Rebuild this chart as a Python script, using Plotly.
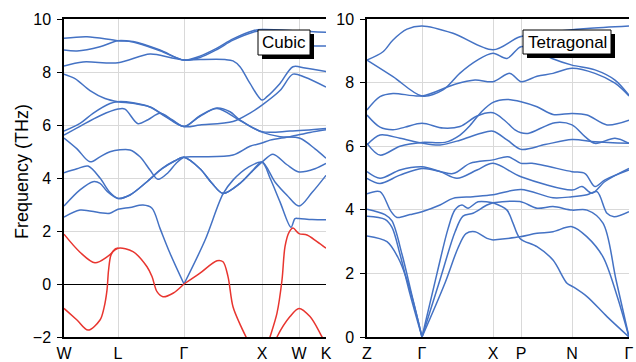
import plotly.graph_objects as go

# ---------------- data ----------------
cubic_ticks_k = [0, 0.54, 1.20, 1.98, 2.35, 2.62]
cubic_tick_labels = ["W", "L", "Γ", "X", "W", "K"]
tetra_ticks_k = [0, 0.55, 1.26, 1.54, 2.05, 2.62]
tetra_tick_labels = ["Z", "Γ", "X", "P", "N", "Γ"]

# Cubic phase, stable (blue) branches: [k, frequency THz]
cub_b1 = [[0,9.27],[0.23,9.33],[0.54,9.18],[0.69,9.15],[0.96,8.83],[1.20,8.45],[1.36,8.6],[1.53,8.9],[1.69,9.25],[1.89,9.56],[1.98,9.6],[2.35,9.55],[2.62,9.5]]
cub_b2 = [[0,8.83],[0.13,8.79],[0.36,8.95],[0.54,9.18],[0.69,9.13],[0.96,8.8],[1.20,8.45],[1.36,8.55],[1.53,8.85],[1.69,9.2],[1.89,9.5],[1.98,9.56],[2.26,9.2],[2.46,9.0],[2.62,8.98]]
cub_b3 = [[0,8.23],[0.19,8.38],[0.54,8.35],[0.86,8.68],[1.06,8.55],[1.20,8.45],[1.36,8.47],[1.61,8.47],[1.69,8.42],[1.76,8.2],[1.86,7.57],[1.98,6.94],[2.03,7.07],[2.16,7.57],[2.29,8.2],[2.41,8.15],[2.62,8.02]]
cub_b4 = [[0,7.92],[0.11,7.75],[0.26,7.3],[0.41,7.0],[0.54,6.88],[0.69,6.82],[0.86,6.68],[1.01,6.35],[1.20,5.94],[1.36,6.0],[1.69,6.13],[1.86,6.45],[1.98,6.75],[2.16,7.3],[2.29,7.92],[2.41,7.8],[2.62,7.43]]
cub_b5 = [[0,5.77],[0.16,6.06],[0.29,6.44],[0.46,6.81],[0.54,6.88],[0.69,6.84],[0.86,6.68],[1.01,6.33],[1.20,5.94],[1.36,6.35],[1.53,6.64],[1.66,6.5],[1.76,6.19],[1.98,5.75],[2.26,5.77],[2.62,5.87]]
cub_b6 = [[0,5.62],[0.16,5.95],[0.36,6.35],[0.54,6.6],[0.61,6.6],[0.74,6.05],[0.84,6.2],[0.96,6.44],[1.08,6.2],[1.20,5.94],[1.36,6.33],[1.53,6.62],[1.76,6.17],[1.98,5.73],[2.16,5.56],[2.36,5.5],[2.51,5.1],[2.62,4.75]]
cub_b7 = [[0,5.51],[0.13,5.1],[0.26,4.61],[0.36,4.8],[0.46,4.99],[0.66,5.06],[0.76,4.8],[0.86,4.3],[0.94,3.95],[1.04,4.2],[1.12,4.55],[1.20,4.78],[1.36,4.8],[1.69,4.87],[1.86,5.2],[1.98,5.32],[2.06,5.43],[2.26,5.56],[2.46,5.72],[2.62,5.82]]
cub_b8 = [[0,4.2],[0.13,4.35],[0.24,4.45],[0.36,4.0],[0.46,3.45],[0.54,3.23],[0.66,3.36],[0.83,3.86],[0.98,4.35],[1.11,4.65],[1.20,4.78],[1.36,4.35],[1.48,3.8],[1.59,3.42],[1.76,3.8],[1.88,4.25],[1.98,4.6],[2.09,4.9],[2.23,4.5],[2.35,4.23],[2.51,4.35],[2.62,4.55]]
cub_b9 = [[0,2.94],[0.16,3.55],[0.29,3.86],[0.36,3.8],[0.43,3.5],[0.54,3.23],[0.66,3.36],[0.83,3.86],[0.98,4.35],[1.11,4.65],[1.20,4.78],[1.36,4.35],[1.48,3.8],[1.59,3.42],[1.76,3.8],[1.88,4.25],[1.98,4.6],[2.11,3.85],[2.23,3.35],[2.35,2.94],[2.48,3.45],[2.62,4.1]]
cub_b10 = [[0,2.52],[0.16,2.79],[0.36,2.69],[0.46,2.67],[0.54,2.82],[0.66,2.89],[0.79,2.98],[0.88,2.86],[0.96,2.1],[1.06,1.16],[1.20,0]]
cub_b11 = [[1.20,0],[1.41,1.65],[1.59,3.4],[1.69,3.92],[1.84,4.4],[1.98,4.6],[2.06,4.0],[2.16,3.1],[2.27,2.14],[2.31,2.47],[2.35,2.47],[2.48,2.43],[2.62,2.42]]

# Cubic phase, imaginary (red) branches
cub_r1 = [[0,1.88],[0.16,1.2],[0.31,0.8],[0.44,1.05],[0.54,1.35],[0.69,1.22],[0.83,0.65],[0.88,0.28],[0.93,-0.29],[0.99,-0.48],[1.09,-0.35],[1.20,0]]
cub_r2 = [[1.20,0],[1.36,0.41],[1.53,0.88],[1.59,0.84],[1.64,0.28],[1.69,-0.86],[1.77,-1.6],[1.86,-2.3],[1.94,-2.9]]
cub_r3 = [[0,-0.92],[0.13,-1.36],[0.24,-1.74],[0.36,-1.36],[0.40,-0.9],[0.43,-0.23],[0.445,0.5],[0.47,1.1],[0.51,1.32],[0.54,1.35]]
cub_r4 = [[2.01,-2.6],[2.06,-2.0],[2.13,-1.1],[2.18,0.15],[2.21,1.41],[2.25,1.95],[2.29,2.11],[2.35,1.9],[2.43,1.85],[2.53,1.6],[2.62,1.35]]
cub_r5 = [[2.08,-2.5],[2.13,-2.0],[2.26,-1.23],[2.35,-0.92],[2.46,-1.23],[2.56,-1.85],[2.62,-2.3]]

# Tetragonal phase branches
tet_u1 = [[0,8.71],[0.16,8.97],[0.26,9.34],[0.40,9.68],[0.55,9.78],[0.86,9.55],[1.26,9.03],[1.53,9.44],[1.86,9.6],[2.20,9.7],[2.62,9.78]]
tet_u2 = [[0,8.71],[0.26,8.19],[0.55,7.58],[0.76,7.77],[0.93,8.3],[1.10,8.7],[1.26,8.92],[1.40,8.76],[1.54,9.13],[1.68,9.0],[1.85,8.76],[2.05,8.55],[2.28,8.4],[2.48,8.08],[2.62,7.6]]
tet_u3 = [[0,7.14],[0.13,7.56],[0.26,7.66],[0.55,7.58],[0.88,7.95],[1.08,8.08],[1.26,8.03],[1.43,8.29],[1.54,8.03],[1.70,8.2],[1.86,8.29],[2.05,8.45],[2.28,8.29],[2.48,7.98],[2.62,7.58]]
tet_u4 = [[0,6.98],[0.13,6.6],[0.26,6.52],[0.38,6.6],[0.55,6.72],[0.76,6.57],[0.93,6.62],[1.10,6.95],[1.26,7.05],[1.38,6.8],[1.48,6.51],[1.54,6.42],[1.61,6.4],[1.88,6.74],[2.05,6.67],[2.18,6.3],[2.28,6.09],[2.48,6.25],[2.62,6.09]]
tet_u5 = [[0,6.04],[0.13,6.35],[0.33,6.25],[0.55,6.1],[0.73,6.04],[0.93,6.19],[1.13,6.4],[1.26,6.47],[1.40,6.2],[1.54,5.9],[1.78,6.05],[2.05,6.21],[2.28,6.14],[2.62,6.09]]
tet_u6 = [[0,6.09],[0.13,5.72],[0.33,6.0],[0.55,6.12],[0.78,6.12],[0.93,6.35],[1.03,6.65],[1.15,7.1],[1.26,7.38],[1.40,7.47],[1.54,7.4],[1.70,7.24],[1.86,7.0],[2.05,7.03],[2.20,6.98],[2.40,6.67],[2.62,6.82]]
tet_m1 = [[0,5.2],[0.13,4.99],[0.33,5.25],[0.55,5.35],[0.86,5.14],[1.03,5.46],[1.26,5.57],[1.41,5.67],[1.54,5.46],[1.65,5.46],[2.05,5.2],[2.18,5.14],[2.28,4.73],[2.38,4.94],[2.62,5.25]]
tet_m2 = [[0,4.99],[0.13,4.83],[0.33,5.09],[0.55,5.3],[0.73,5.2],[0.90,4.99],[1.10,5.25],[1.26,5.46],[1.54,5.04],[2.05,4.62],[2.15,4.73],[2.25,4.52],[2.38,4.89],[2.62,5.3]]
tet_m3 = [[0,4.5],[0.13,4.57],[0.24,3.95],[0.30,3.76],[0.43,3.85],[0.55,3.94],[0.73,4.15],[0.86,4.36],[1.06,4.41],[1.26,4.47],[1.54,4.64],[1.86,4.38],[2.05,4.41],[2.20,4.47],[2.30,4.57],[2.40,3.89],[2.47,3.78],[2.62,3.94]]
tet_r1 = [[1.26,4.22],[1.40,3.99],[1.46,3.58],[1.53,3.1],[1.70,2.84],[1.86,2.42],[2.00,1.69],[2.06,1.58],[2.20,1.27],[2.40,0.64],[2.62,0]]
tet_r2 = [[1.26,3.05],[1.53,3.15],[1.70,3.26],[1.86,3.31],[2.05,3.47],[2.20,3.15],[2.36,2.52],[2.50,1.3],[2.62,0]]
tet_r3 = [[1.26,4.22],[1.53,4.26],[1.70,4.05],[1.86,4.1],[2.05,3.99],[2.20,3.99],[2.36,3.58],[2.49,1.8],[2.62,0]]
tet_a1 = [[0.55,0],[0.70,2.0],[0.81,3.4],[0.88,4.0],[0.95,4.15],[1.01,4.05],[1.11,4.25],[1.26,4.22]]
tet_a2 = [[0.55,0],[0.73,1.8],[0.88,3.3],[0.96,3.8],[1.06,3.89],[1.20,4.15],[1.26,4.22]]
tet_a3 = [[0.55,0],[0.78,1.7],[0.91,2.8],[0.99,3.25],[1.08,3.31],[1.20,3.1],[1.26,3.05]]
tet_t1 = [[0,3.18],[0.20,3.0],[0.31,2.5],[0.40,1.79],[0.48,0.9],[0.55,0]]
tet_t2 = [[0,3.8],[0.18,3.7],[0.25,3.45],[0.33,2.6],[0.43,1.35],[0.55,0]]
tet_t3 = [[0,4.02],[0.18,3.85],[0.25,3.65],[0.35,2.6],[0.45,1.3],[0.55,0]]

cubic_blue = [cub_b1, cub_b2, cub_b3, cub_b4, cub_b5, cub_b6, cub_b7, cub_b8, cub_b9, cub_b10, cub_b11]
cubic_red = [cub_r1, cub_r2, cub_r3, cub_r4, cub_r5]
tetra_blue = [tet_u1, tet_u2, tet_u3, tet_u4, tet_u5, tet_u6, tet_m1, tet_m2, tet_m3,
              tet_r1, tet_r2, tet_r3, tet_a1, tet_a2, tet_a3, tet_t1, tet_t2, tet_t3]

BLUE = "#4472C4"
RED = "#E8352F"
FONT = "Liberation Sans, Arial, sans-serif"

fig = go.Figure()

def add_band(pts, color, xa, ya):
    fig.add_trace(go.Scatter(
        x=[p[0] for p in pts], y=[p[1] for p in pts], mode="lines",
        line=dict(color=color, width=1.5, shape="spline", smoothing=0.9),
        xaxis=xa, yaxis=ya, hoverinfo="skip", showlegend=False))

for b in cubic_blue:
    add_band(b, BLUE, "x", "y")
for b in cubic_red:
    add_band(b, RED, "x", "y")
for b in tetra_blue:
    add_band(b, BLUE, "x2", "y2")

# ---------------- layout ----------------
W, H = 636, 362
L, R, T, B = 64, 7, 19, 25
pw = W - L - R
ph = H - T - B

def px_x(px):
    return (px - L) / pw

def px_y(py):
    return (H - B - py) / ph

grid = "#d9d9d9"
common_x = dict(showgrid=True, gridcolor=grid, gridwidth=1, showline=True, linecolor="black",
                linewidth=1.5, mirror=True, ticks="", zeroline=False, automargin=False,
                tickfont=dict(family=FONT, size=16, color="black"), ticklabelstandoff=1)
common_y = dict(showgrid=True, gridcolor=grid, gridwidth=1, showline=True, linecolor="black",
                linewidth=1.5, mirror=False, ticks="outside", ticklen=5, tickcolor="black",
                tickwidth=1.2, dtick=2, tickfont=dict(family=FONT, size=16, color="black"),
                ticklabelstandoff=3, automargin=False)

fig.update_layout(
    width=W, height=H,
    margin=dict(l=L, r=R, t=T, b=B, pad=0, autoexpand=False),
    paper_bgcolor="white", plot_bgcolor="white",
    font=dict(family=FONT, color="black"),
    xaxis=dict(domain=[0, px_x(326)], range=[0, 2.62], tickvals=cubic_ticks_k,
               ticktext=cubic_tick_labels, anchor="y", **common_x),
    yaxis=dict(domain=[0, 1], range=[-2, 10], anchor="x", zeroline=True,
               zerolinecolor="black", zerolinewidth=1, **common_y),
    xaxis2=dict(domain=[px_x(367), 1], range=[0, 2.62], tickvals=tetra_ticks_k,
                ticktext=tetra_tick_labels, anchor="y2", **common_x),
    yaxis2=dict(domain=[0, 1], range=[0, 10], anchor="x2", zeroline=False, **common_y),
)

shapes = []
annotations = []
for (x0, y0, x1, y1, label) in [(258, 30, 310, 55, "Cubic"), (523, 30, 611, 54, "Tetragonal")]:
    shapes.append(dict(type="rect", xref="paper", yref="paper",
                       x0=px_x(x0 + 4), x1=px_x(x1 + 4), y0=px_y(y1 + 4), y1=px_y(y0 + 4),
                       fillcolor="black", line=dict(width=0), layer="above"))
    shapes.append(dict(type="rect", xref="paper", yref="paper",
                       x0=px_x(x0), x1=px_x(x1), y0=px_y(y1), y1=px_y(y0),
                       fillcolor="white", line=dict(color="black", width=1), layer="above"))
    annotations.append(dict(text=label, xref="paper", yref="paper",
                            x=px_x((x0 + x1) / 2), y=px_y((y0 + y1) / 2),
                            xanchor="center", yanchor="middle", showarrow=False,
                            font=dict(family=FONT, size=17, color="black")))

annotations.append(dict(text="Frequency (THz)", xref="paper", yref="paper",
                        x=px_x(22), y=px_y(172), xanchor="center", yanchor="middle",
                        textangle=-90, showarrow=False,
                        font=dict(family=FONT, size=18, color="black")))

fig.update_layout(shapes=shapes, annotations=annotations)

fig.write_html("out.html")
